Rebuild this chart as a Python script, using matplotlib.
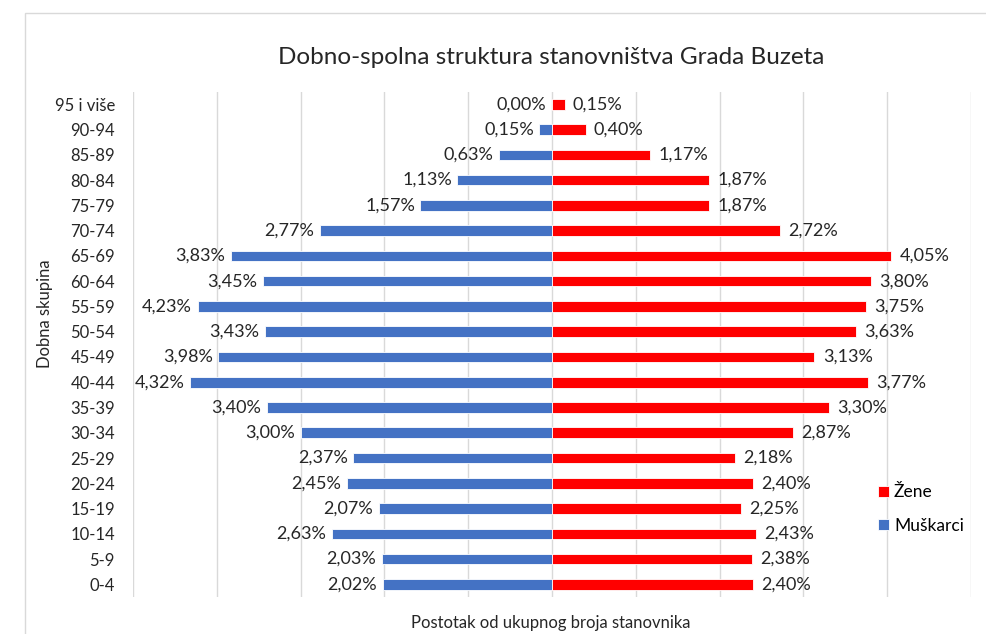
import numpy as np
import matplotlib
matplotlib.use('Agg')
import matplotlib.pyplot as plt
from matplotlib.patches import Rectangle

plt.rcParams['font.family'] = ['Lato', 'DejaVu Sans']

# dobne skupine, od najmlađe prema najstarijoj
dobne_skupine = ['0-4', '5-9', '10-14', '15-19', '20-24', '25-29', '30-34', '35-39',
                 '40-44', '45-49', '50-54', '55-59', '60-64', '65-69', '70-74',
                 '75-79', '80-84', '85-89', '90-94', '95 i više']
muskarci = [2.02, 2.03, 2.63, 2.07, 2.45, 2.37, 3.00, 3.40, 4.32, 3.98,
            3.43, 4.23, 3.45, 3.83, 2.77, 1.57, 1.13, 0.63, 0.15, 0.00]
zene = [2.40, 2.38, 2.43, 2.25, 2.40, 2.18, 2.87, 3.30, 3.77, 3.13,
        3.63, 3.75, 3.80, 4.05, 2.72, 1.87, 1.87, 1.17, 0.40, 0.15]

plava = '#4472c4'
crvena = '#ff0000'

fig = plt.figure(figsize=(9.86, 6.34), dpi=100)
ax = fig.add_axes([0.1349, 0.0584, 0.85, 0.797])

y = np.arange(len(dobne_skupine))
m = -np.array(muskarci)
z = np.array(zene)
ax.barh(y, m, height=0.42, color=plava, edgecolor='white', linewidth=0.6, label='Muškarci', zorder=3)
ax.barh(y, z, height=0.42, color=crvena, edgecolor='white', linewidth=0.6, label='Žene', zorder=3)

# oznake s postocima
for i in range(len(y)):
    ax.annotate(f'{muskarci[i]:.2f}%'.replace('.', ','), (m[i], y[i]), xytext=(-4, 0),
                textcoords='offset points', ha='right', va='center', fontsize=13, color='#262626')
    ax.annotate(f'{zene[i]:.2f}%'.replace('.', ','), (z[i], y[i]), xytext=(6, 0),
                textcoords='offset points', ha='left', va='center', fontsize=13, color='#262626')

ax.set_xlim(-5, 5)
ax.set_ylim(-0.5, len(y) - 0.5)
ax.set_xticks(np.arange(-5, 6, 1))
ax.set_xticklabels([])
ax.set_yticks(y)
ax.set_yticklabels(dobne_skupine, fontsize=12, color='#262626')
ax.tick_params(length=0, pad=13)
ax.grid(axis='x', color='#d9d9d9', linewidth=1, zorder=0)
for s in ax.spines.values():
    s.set_visible(False)

fig.text(0.5588, 0.91, 'Dobno-spolna struktura stanovništva Grada Buzeta',
         ha='center', va='center', fontsize=17.5, color='#262626')
fig.text(0.046, 0.505, 'Dobna skupina', rotation=90, ha='center', va='center', fontsize=12, color='#262626')
fig.text(0.5588, 0.018, 'Postotak od ukupnog broja stanovnika', ha='center', va='center',
         fontsize=12, color='#262626')

h, l = ax.get_legend_handles_labels()
fig.legend(h[::-1], l[::-1], loc='center left', bbox_to_anchor=(0.875, 0.197), frameon=False,
           fontsize=12.5, handlelength=0.6, handleheight=0.6, handletextpad=0.3, labelspacing=1.0)

# okvir grafikona
fig.patches.append(Rectangle((25 / 986, -0.1), 1.2, 1 - 13 / 634 + 0.1, transform=fig.transFigure,
                             fill=False, edgecolor='#d9d9d9', linewidth=1))

fig.savefig('out.png', dpi=100)
